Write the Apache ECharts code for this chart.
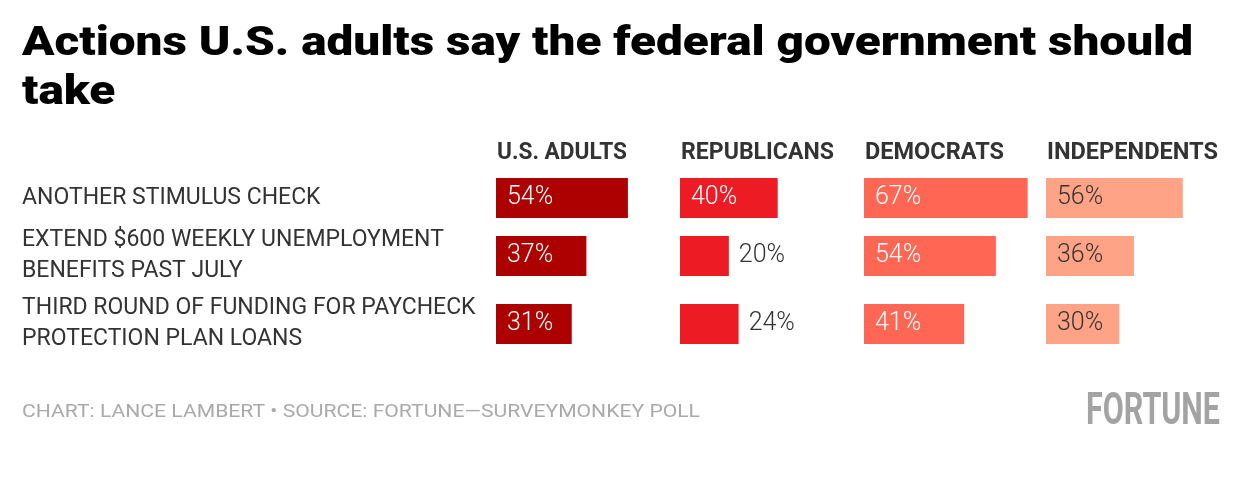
<!DOCTYPE html>
<html>
<head>
<meta charset="utf-8">
<script src="https://cdn.jsdelivr.net/npm/echarts@6/dist/echarts.min.js"></script>
<style>
html,body{margin:0;padding:0;background:#fff;}
#chart{width:1240px;height:486px;}
</style>
</head>
<body>
<div id="chart"></div>
<script>
// ---- data ----
var titleLines = ["Actions U.S. adults say the federal government should", "take"];
var groups = ["U.S. ADULTS", "REPUBLICANS", "DEMOCRATS", "INDEPENDENTS"];
var actions = [
  "ANOTHER STIMULUS CHECK",
  "EXTEND $600 WEEKLY UNEMPLOYMENT\nBENEFITS PAST JULY",
  "THIRD ROUND OF FUNDING FOR PAYCHECK\nPROTECTION PLAN LOANS"
];
var usAdults     = [54, 37, 31];
var republicans  = [40, 20, 24];
var democrats    = [67, 54, 41];
var independents = [56, 36, 30];
var footerText = "CHART: LANCE LAMBERT \u2022 SOURCE: FORTUNE\u2014SURVEYMONKEY POLL";
var logoText = "FORTUNE";

// ---- styling / layout ----
var seriesValues = [usAdults, republicans, democrats, independents];
var colors = ["#AD0000", "#ED1C24", "#FF6754", "#FFA386"];
var labelInside = ["#FFFFFF", "#FFFFFF", "#FFFFFF", "#333333"];
var colLeft = [496, 680, 864, 1046];
var rowTop = [178, 236, 304];
var barH = 40, axisMax = 70, gridW = 171;

var mc = document.createElement('canvas').getContext('2d');
function measure(font, txt){ mc.font = font; return mc.measureText(txt).width; }

var grids = [], xAxes = [], yAxes = [], series = [];
for (var r = 0; r < actions.length; r++) {
  for (var c = 0; c < groups.length; c++) {
    var gi = grids.length;
    grids.push({left: colLeft[c], top: rowTop[r], width: gridW, height: barH, outerBoundsMode: 'none'});
    xAxes.push({gridIndex: gi, type: 'value', min: 0, max: axisMax, show: false});
    yAxes.push({
      gridIndex: gi, type: 'category', data: [actions[r]],
      axisLine: {show: false}, axisTick: {show: false}, splitLine: {show: false},
      axisLabel: {
        show: c === 0, align: 'left', margin: colLeft[0] - 22,
        fontFamily: 'Roboto', fontSize: 23, lineHeight: 31, color: '#333333',
        padding: [7, 0, 0, 0]
      }
    });
    var v = seriesValues[c][r];
    var outside = v < 25;
    series.push({
      type: 'bar', xAxisIndex: gi, yAxisIndex: gi, barWidth: barH,
      data: [v], silent: true, animation: false,
      itemStyle: {color: colors[c]},
      label: {
        show: true, position: outside ? 'right' : 'insideLeft', distance: outside ? 10 : 11,
        formatter: '{c}%', fontFamily: 'Roboto', fontSize: 25, fontWeight: 300,
        padding: [2, 0, 0, 0],
        color: outside ? '#333333' : labelInside[c]
      }
    });
  }
}

var graphics = [];
// title
var titleFont = '900 40px Roboto';
var tW = measure(titleFont, titleLines[0]);
var tScale = (1193 - 22) / tW;
graphics.push({type: 'text', x: 22, y: 45, scaleX: tScale,
  style: {x: 0, y: 0, text: titleLines[0], font: titleFont, fill: '#000', verticalAlign: 'middle', align: 'left'}});
graphics.push({type: 'text', x: 22, y: 94, scaleX: tScale,
  style: {x: 0, y: 0, text: titleLines[1], font: titleFont, fill: '#000', verticalAlign: 'middle', align: 'left'}});
// column headers
var headW = [130, 153, 139, 171];
var headFont = 'bold 24px Roboto';
groups.forEach(function(g, i){
  var s = headW[i] / measure(headFont, g);
  graphics.push({type: 'text', x: colLeft[i] + 1, y: 152.5, scaleX: s,
    style: {x: 0, y: 0, text: g, font: headFont, fill: '#333333', verticalAlign: 'middle', align: 'left'}});
});
// footer
var footFont = '18px Roboto';
var fs = (700 - 22) / measure(footFont, footerText);
graphics.push({type: 'text', x: 22, y: 412, scaleX: fs,
  style: {x: 0, y: 0, text: footerText, font: footFont, fill: '#AAAAAA', verticalAlign: 'middle', align: 'left'}});
var logoFont = 'bold 45px Roboto';
var ls = (1220 - 1086) / measure(logoFont, logoText);
graphics.push({type: 'text', x: 1086, y: 412.5, scaleX: ls,
  style: {x: 0, y: 0, text: logoText, font: logoFont, fill: '#A3A3A3', verticalAlign: 'middle', align: 'left'}});

var chart = echarts.init(document.getElementById('chart'), null, {renderer: 'canvas'});
chart.setOption({
  backgroundColor: '#FFFFFF',
  animation: false,
  grid: grids, xAxis: xAxes, yAxis: yAxes, series: series,
  graphic: graphics
});
</script>
</body>
</html>
